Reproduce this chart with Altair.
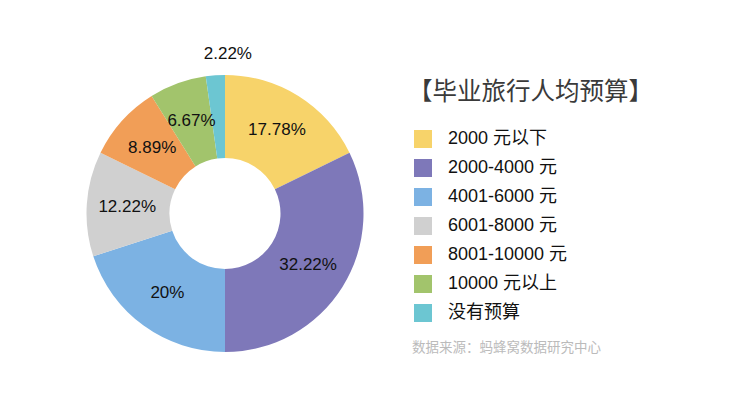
import altair as alt
import pandas as pd

categories = ["2000 元以下", "2000-4000 元", "4001-6000 元", "6001-8000 元",
              "8001-10000 元", "10000 元以上", "没有预算"]
percents = [17.78, 32.22, 20, 12.22, 8.89, 6.67, 2.22]
colors = ["#F7D36A", "#7E78B9", "#7CB2E3", "#D0D0D0", "#F19E57", "#A2C46C", "#6CC6D2"]
title_text = "【毕业旅行人均预算】"
source_text = "数据来源：蚂蜂窝数据研究中心"

FONT = "Liberation Sans, Noto Sans CJK SC, sans-serif"
CX, CY = 217, 205.5

df = pd.DataFrame({"cat": categories, "pct": percents, "idx": list(range(len(categories)))})

theta_scale = alt.Scale(domain=[0, 100], range=[0, 6.283185307179586])

base = alt.Chart(df).transform_window(
    cum="sum(pct)", sort=[alt.SortField("idx")], frame=[None, 0]
).transform_calculate(
    start="datum.cum - datum.pct",
    mid="datum.cum - datum.pct / 2",
    label="datum.pct + '%'",
)

arcs = base.mark_arc(innerRadius=55.5, outerRadius=138.5, stroke=None).encode(
    theta=alt.Theta("start:Q", scale=theta_scale),
    theta2="cum:Q",
    x=alt.value(CX),
    y=alt.value(CY),
    color=alt.Color(
        "cat:N",
        scale=alt.Scale(domain=categories, range=colors),
        legend=alt.Legend(
            title=None,
            orient="none",
            legendX=406,
            legendY=122,
            padding=0,
            symbolType="square",
            symbolSize=324,
            symbolStrokeWidth=0,
            symbolOpacity=1,
            labelFont=FONT,
            labelFontSize=18,
            labelColor="#111111",
            labelOffset=16,
            rowPadding=11,
            labelLimit=300,
        ),
    ),
)

labels_in = base.transform_filter(f"datum.cat != '{categories[-1]}'").mark_text(
    radius=98, font=FONT, fontSize=17, color="#111111", align="center", baseline="middle"
).encode(
    theta=alt.Theta("mid:Q", scale=theta_scale),
    x=alt.value(CX),
    y=alt.value(CY),
    text="label:N",
)

labels_out = base.transform_filter(f"datum.cat == '{categories[-1]}'").mark_text(
    radius=160, dx=14, font=FONT, fontSize=17, color="#111111", align="center", baseline="middle"
).encode(
    theta=alt.Theta("mid:Q", scale=theta_scale),
    x=alt.value(CX),
    y=alt.value(CY),
    text="label:N",
)

title = alt.Chart(pd.DataFrame({"t": [title_text]})).mark_text(
    font=FONT, fontSize=24.5, color="#3A3A3A", align="left", baseline="middle"
).encode(x=alt.value(400), y=alt.value(84.5), text="t:N")

source = alt.Chart(pd.DataFrame({"t": [source_text]})).mark_text(
    font=FONT, fontSize=13.5, color="#BBBBBB", align="left", baseline="middle"
).encode(x=alt.value(404), y=alt.value(339.5), text="t:N")

chart = alt.layer(arcs, labels_in, labels_out, title, source).properties(
    width=740, height=394, autosize=alt.AutoSizeParams(type="none"), padding=0
).configure(background="white").configure_view(stroke=None, strokeWidth=0)

chart.save("out.html", embed_options={"renderer": "svg", "actions": False})
